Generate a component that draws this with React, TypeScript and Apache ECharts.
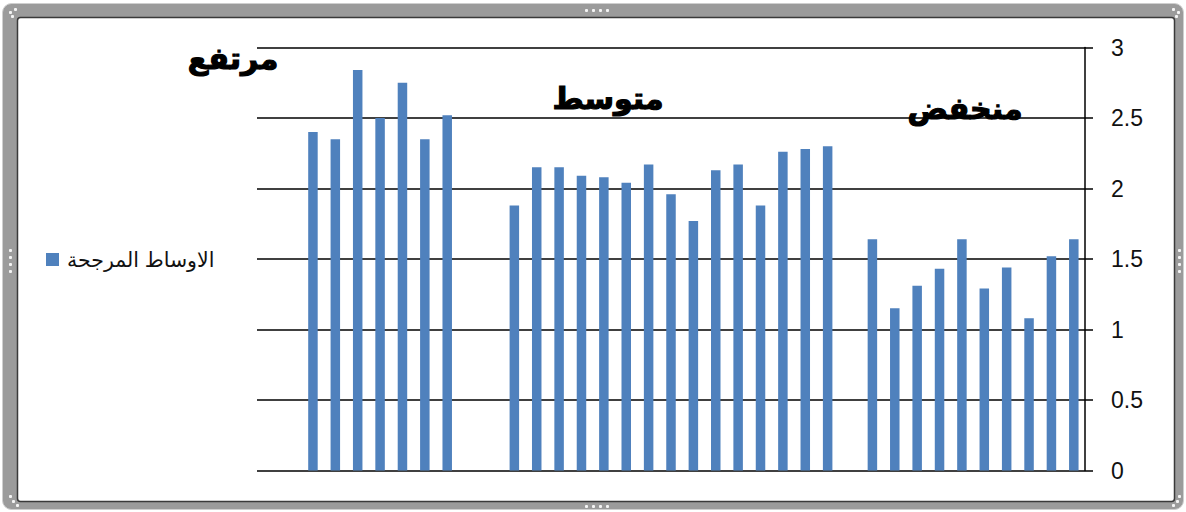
import React, { useEffect, useRef } from 'react';
import * as echarts from 'echarts';

// ---- data ----
const highValues = [2.4, 2.35, 2.84, 2.5, 2.75, 2.35, 2.52];
const mediumValues = [1.88, 2.15, 2.15, 2.09, 2.08, 2.04, 2.17, 1.96, 1.77, 2.13, 2.17, 1.88, 2.26, 2.28, 2.3];
const lowValues = [1.64, 1.15, 1.31, 1.43, 1.64, 1.29, 1.44, 1.08, 1.52, 1.64];
const groupLabels = ['مرتفع', 'متوسط', 'منخفض'];
const seriesName = 'الاوساط المرجحة';
const yMin = 0;
const yMax = 3;
const yInterval = 0.5;

// empty category slots before / between the groups
const leadingBlank = 2;
const gapHighMedium = 2;
const gapMediumLow = 1;

const blanks = (n: number) => Array.from({ length: n }, () => null as number | null);
const values: (number | null)[] = [
  ...blanks(leadingBlank),
  ...highValues,
  ...blanks(gapHighMedium),
  ...mediumValues,
  ...blanks(gapMediumLow),
  ...lowValues,
];
const categories = values.map((_, i) => String(i + 1));

const W = 1186;
const H = 512;

function frameElements(): any[] {
  const els: any[] = [
    {
      type: 'rect',
      z: -3,
      shape: { x: 2.5, y: 3.5, width: 1181, height: 506, r: 9 },
      style: { fill: '#9b9b9b', stroke: '#cfcfcf', lineWidth: 1 },
    },
    {
      type: 'rect',
      z: -2,
      shape: { x: 17.5, y: 17.5, width: 1157, height: 484, r: 3 },
      style: { fill: '#ffffff', stroke: '#3a3a3a', lineWidth: 1.5 },
    },
  ];
  const dot = (x: number, y: number) => ({
    type: 'rect',
    z: -1,
    shape: { x, y, width: 3, height: 3, r: 1 },
    style: { fill: '#f4f4f4' },
  });
  // top & bottom middle handles
  [585, 592, 599, 606].forEach((x) => {
    els.push(dot(x, 9));
    els.push(dot(x, 505));
  });
  // left & right middle handles
  [249, 256, 263, 270].forEach((y) => {
    els.push(dot(9, y));
    els.push(dot(1178, y));
  });
  // corner handles
  [
    [9, 11], [14, 8], [11, 15],
    [1172, 8], [1177, 11], [1175, 15],
    [9, 495], [12, 500], [16, 504],
    [1172, 504], [1176, 500], [1178, 495],
  ].forEach(([x, y]) => els.push(dot(x, y)));
  return els;
}

export default function App() {
  const ref = useRef<HTMLDivElement>(null);
  useEffect(() => {
    if (!ref.current) return;
    const chart = echarts.init(ref.current, null, { renderer: 'svg' });
    const labelPos = [
      { x: 233, y: 58 },
      { x: 608, y: 98 },
      { x: 965, y: 108 },
    ];
    const option: any = {
      animation: false,
      backgroundColor: 'transparent',
      grid: { left: 257, right: W - 1085, top: 47.5, bottom: H - 470.5, containLabel: false },
      legend: {
        data: [seriesName],
        left: 41,
        top: 244,
        icon: 'rect',
        itemWidth: 13,
        itemHeight: 13,
        textStyle: { fontSize: 20.5, fontFamily: 'Arial, DejaVu Sans', color: '#111', padding: [0, 0, 0, 3] },
      },
      xAxis: {
        type: 'category',
        data: categories,
        axisLine: { show: false },
        axisTick: { show: false },
        axisLabel: { show: false },
        splitLine: { show: false },
      },
      yAxis: {
        type: 'value',
        position: 'right',
        z: 5,
        min: yMin,
        max: yMax,
        interval: yInterval,
        axisLine: { show: true, lineStyle: { color: '#000', width: 1.5 } },
        axisTick: { show: true, inside: false, length: 8, lineStyle: { color: '#000', width: 1.5 } },
        axisLabel: {
          margin: 26,
          fontSize: 23,
          fontFamily: 'Arial, Liberation Sans',
          color: '#111',
          align: 'left',
        },
        splitLine: { show: true, lineStyle: { color: '#000', width: 1.5 } },
      },
      series: [
        {
          name: seriesName,
          type: 'bar',
          data: values,
          barWidth: 9.5,
          itemStyle: { color: '#4F81BD' },
          z: 6,
        },
      ],
      graphic: [
        ...frameElements(),
        ...groupLabels.map((t, i) => ({
          type: 'text',
          z: 20,
          x: labelPos[i].x,
          y: labelPos[i].y,
          style: {
            text: t,
            font: 'bold 30px "DejaVu Sans"',
            fill: '#000',
            stroke: '#000',
            lineWidth: 1.2,
            align: 'center',
            verticalAlign: 'middle',
          },
        })),
      ],
    };
    chart.setOption(option);
    return () => chart.dispose();
  }, []);
  return (
    <div
      ref={ref}
      style={{ position: 'absolute', left: 0, top: 0, width: W, height: H }}
    />
  );
}
